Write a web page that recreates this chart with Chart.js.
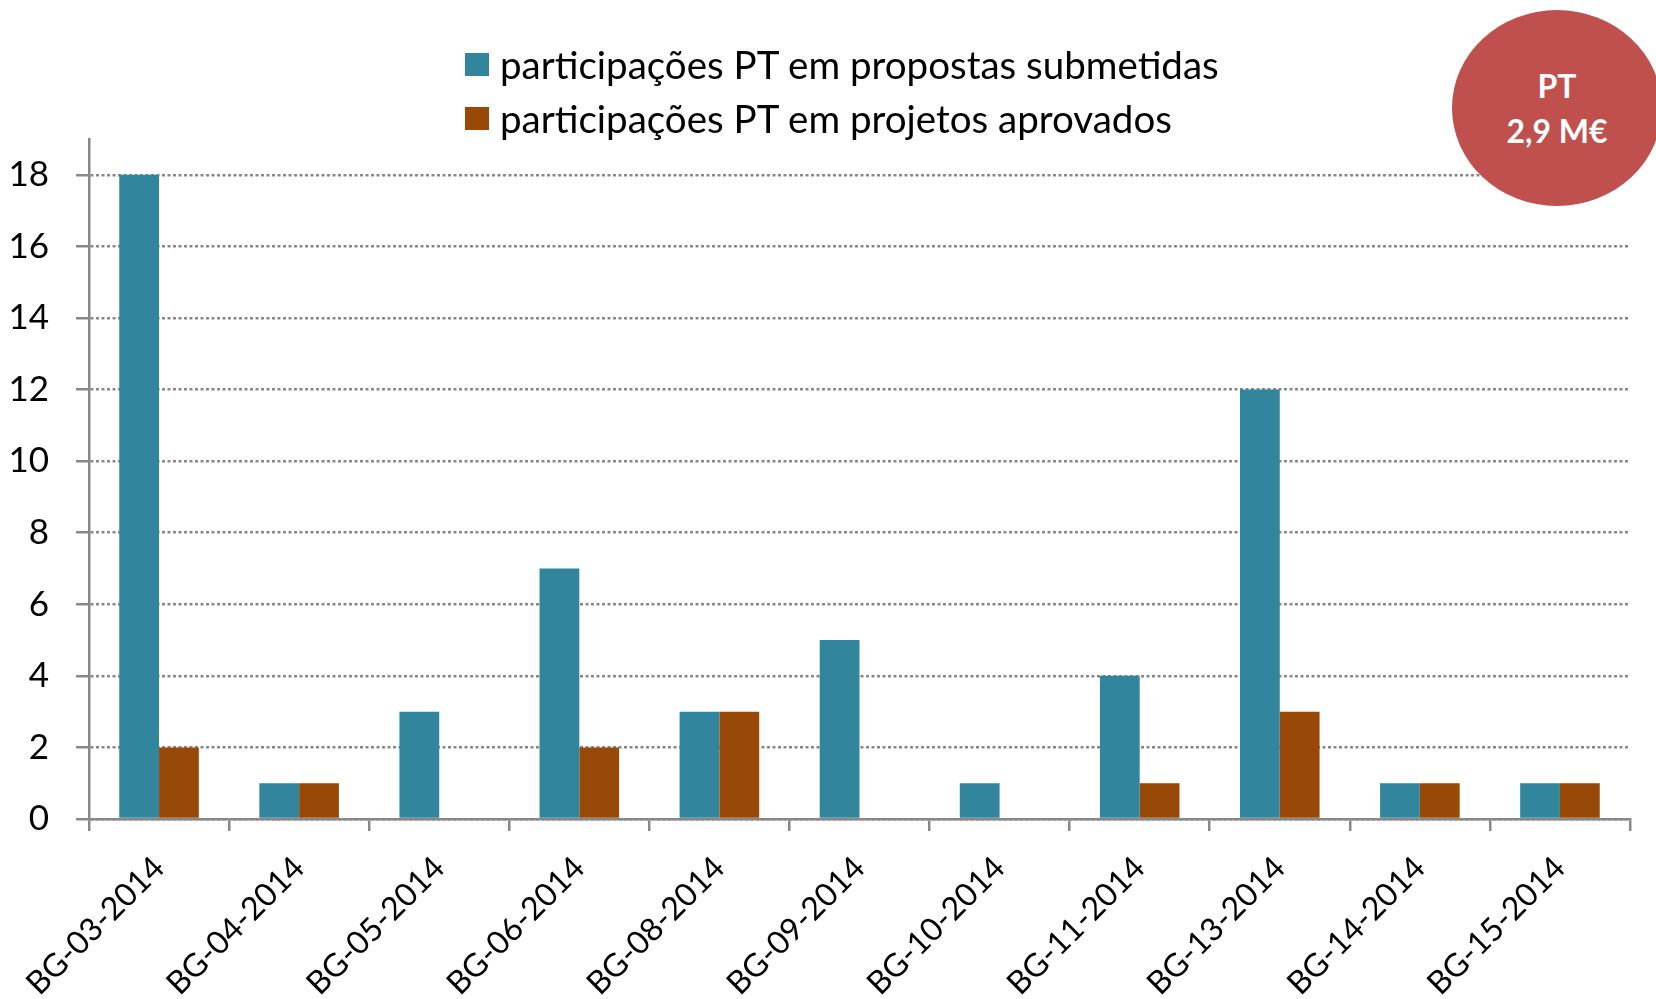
<!DOCTYPE html>
<html>
<head>
<meta charset="utf-8">
<script src="https://cdn.jsdelivr.net/npm/chart.js"></script>
<style>
  body { margin: 0; background: #fff; font-family: "Lato", sans-serif; }
  #wrap { position: relative; width: 1656px; height: 999px; overflow: hidden; }
  #legend { position: absolute; left: 465px; top: 37px; }
  .item { height: 54px; display: flex; align-items: center; font-size: 38.5px; color: #000; white-space: nowrap; }
  .box { width: 24px; height: 23px; margin-right: 11px; }
  #badge {
    position: absolute; left: 1452px; top: 10px; width: 210px; height: 196px;
    border-radius: 50%; background: #c0504d; color: #fff;
    font-weight: bold; font-size: 32px; line-height: 45px; text-align: center;
    display: flex; flex-direction: column; justify-content: center;
  }
</style>
</head>
<body>
<div id="wrap">
  <canvas id="grafico" width="1656" height="999"></canvas>
  <div id="legend"></div>
  <div id="badge"><div>PT</div><div>2,9 M€</div></div>
</div>
<script>
// dados do grafico
var categorias = ["BG-03-2014", "BG-04-2014", "BG-05-2014", "BG-06-2014", "BG-08-2014", "BG-09-2014",
  "BG-10-2014", "BG-11-2014", "BG-13-2014", "BG-14-2014", "BG-15-2014"];
var submetidas = [18, 1, 3, 7, 3, 5, 1, 4, 12, 1, 1];
var aprovados = [2, 1, 0, 2, 3, 0, 0, 1, 3, 1, 1];
var nomesSeries = ["participações PT em propostas submetidas", "participações PT em projetos aprovados"];
var coresSeries = ["#31859c", "#984807"];
var ticksY = [0, 2, 4, 6, 8, 10, 12, 14, 16, 18];

var cinza = "#888888";

init();

function init() {
  printLegend();
  printChart();
}

// legenda feita em html, uma linha por serie
function printLegend() {
  var box = document.getElementById("legend");
  for (var i = 0; i < nomesSeries.length; i++) {
    var row = document.createElement("div");
    row.className = "item";
    var sq = document.createElement("span");
    sq.className = "box";
    sq.style.background = coresSeries[i];
    row.appendChild(sq);
    row.appendChild(document.createTextNode(nomesSeries[i]));
    box.appendChild(row);
  }
}

function printChart() {
  var ctx = document.getElementById("grafico").getContext("2d");
  Chart.defaults.font.family = "Lato";
  Chart.defaults.color = "#000";
  var grafico = new Chart(ctx, {
    type: "bar",
    data: {
      labels: categorias,
      datasets: [{
        label: nomesSeries[0],
        data: submetidas,
        backgroundColor: coresSeries[0],
        categoryPercentage: 0.568,
        barPercentage: 1
      }, {
        label: nomesSeries[1],
        data: aprovados,
        backgroundColor: coresSeries[1],
        categoryPercentage: 0.568,
        barPercentage: 1
      }]
    },
    options: {
      responsive: false,
      animation: false,
      layout: { padding: { top: 139, right: 26, bottom: 0, left: 0 } },
      plugins: {
        legend: { display: false },
        tooltip: { enabled: false }
      },
      scales: {
        x: {
          grid: {
            drawOnChartArea: false,
            color: cinza,
            lineWidth: 2.5,
            tickLength: 12
          },
          border: { color: cinza, width: 2.5 },
          ticks: {
            font: { size: 32 },
            maxRotation: 45,
            minRotation: 45,
            padding: 18
          },
          afterFit: function (scale) { scale.height = 180; }
        },
        y: {
          min: 0,
          max: 19,
          afterBuildTicks: function (scale) {
            scale.ticks = ticksY.map(function (v) { return { value: v }; });
          },
          grid: {
            color: cinza,
            lineWidth: 2.5,
            tickLength: 13,
            tickWidth: 2.5,
            tickBorderDash: []
          },
          border: { color: cinza, width: 2.5, dash: [3, 2.5] },
          ticks: {
            font: { size: 35 },
            padding: 27
          },
          afterFit: function (scale) { scale.width = 89; }
        }
      }
    }
  });
}
</script>
</body>
</html>
